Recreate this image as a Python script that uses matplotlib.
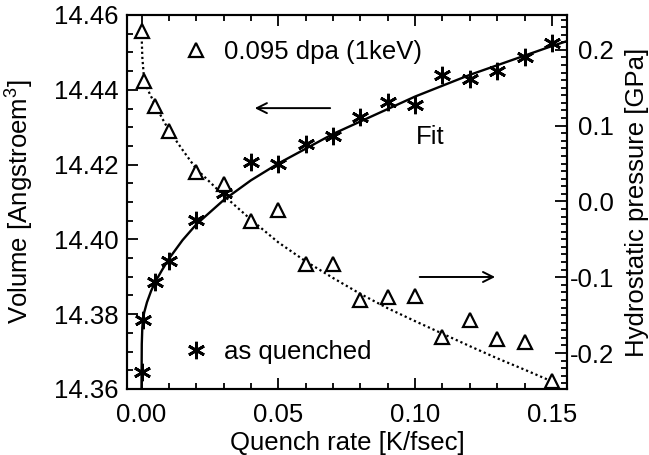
import matplotlib
matplotlib.use('Agg')
import matplotlib.pyplot as plt
from matplotlib.lines import Line2D

plt.rcParams['font.family'] = ['Liberation Sans', 'DejaVu Sans']
plt.rcParams['mathtext.default'] = 'regular'

# as quenched volume (left axis)
rate_v = [0.0, 0.0005, 0.005, 0.01, 0.02, 0.03, 0.04, 0.05, 0.06, 0.07, 0.08,
          0.09, 0.10, 0.11, 0.12, 0.13, 0.14, 0.15]
volume = [14.3645, 14.3785, 14.3887, 14.3942, 14.4052, 14.4125, 14.4208, 14.4201,
          14.4255, 14.4276, 14.4326, 14.4368, 14.4359, 14.4440, 14.4429, 14.4451,
          14.4489, 14.4524]

# fit through the volume points
fit_rate_v = [0.0, 0.0001, 0.0003, 0.0006, 0.001, 0.002, 0.0035, 0.005, 0.0075, 0.01,
              0.015, 0.02, 0.03, 0.04, 0.05, 0.07, 0.10, 0.12, 0.15, 0.155]
fit_volume = [14.360, 14.372, 14.3765, 14.3790, 14.3805, 14.3832, 14.3862, 14.3886,
              14.3918, 14.3948, 14.3998, 14.4040, 14.4105, 14.4158, 14.4203, 14.4282,
              14.4382, 14.4440, 14.4517, 14.4529]

# 0.095 dpa (1keV) hydrostatic pressure (right axis)
rate_p = [0.0, 0.001, 0.005, 0.01, 0.02, 0.03, 0.04, 0.05, 0.06, 0.07, 0.08,
          0.09, 0.10, 0.11, 0.12, 0.13, 0.14, 0.15]
pressure = [0.2243, 0.1592, 0.1263, 0.0933, 0.0388, 0.0230, -0.0255, -0.0110,
            -0.0826, -0.0826, -0.1297, -0.1260, -0.1244, -0.1790, -0.1560, -0.1810,
            -0.1860, -0.2375]

# dotted fit through the pressure points
fit_rate_p = [0.0, 0.0003, 0.0008, 0.0015, 0.003, 0.005, 0.0075, 0.01, 0.015, 0.02,
              0.03, 0.04, 0.05, 0.06, 0.07, 0.08, 0.09, 0.10, 0.12, 0.13, 0.14, 0.15]
fit_pressure = [0.2245, 0.190, 0.168, 0.155, 0.142, 0.128, 0.110, 0.094, 0.068, 0.043,
                0.008, -0.024, -0.054, -0.079, -0.101, -0.122, -0.141, -0.158,
                -0.191, -0.207, -0.222, -0.2375]

FS = 18.5

fig = plt.figure(figsize=(6.49, 4.55), dpi=100)
ax = fig.add_axes([127/649, 1 - 389/455, 440/649, 374/455])
ax2 = ax.twinx()

# volume
ax.plot(fit_rate_v, fit_volume, color='black', lw=1.7, zorder=2)
ax.plot(rate_v, volume, linestyle='none', marker=(6, 2, 0), ms=12.5, mew=2.0,
        color='black', zorder=3)

# pressure
ax2.plot(fit_rate_p, fit_pressure, color='black', lw=1.6, linestyle=(0, (1, 1.3)))
ax2.plot(rate_p, pressure, linestyle='none', marker='^', ms=9.5, mew=1.6,
         mfc='white', mec='black')

ax.set_xlim(-0.0053, 0.1555)
ax.set_ylim(14.36, 14.46)
ax2.set_ylim(-0.2475, 0.246)

ax.set_xticks([0.0, 0.05, 0.10, 0.15])
ax.set_xticklabels(['0.00', '0.05', '0.10', '0.15'])
ax.set_xticks([i * 0.01 for i in range(16)], minor=True)
ax.set_yticks([14.36, 14.38, 14.40, 14.42, 14.44, 14.46])
ax.set_yticks([14.36 + i * 0.005 for i in range(21)], minor=True)
ax2.set_yticks([-0.2, -0.1, 0.0, 0.1, 0.2])
ax2.set_yticklabels(['-0.2', '-0.1', '0.0', '0.1', '0.2'])
ax2.set_yticks([-0.24 + i * 0.01 for i in range(49)], minor=True)

ax.tick_params(axis='x', which='both', direction='in', top=True, bottom=True,
               width=1.3, labelsize=FS, pad=10)
ax.tick_params(axis='y', which='both', direction='in', left=True, right=False,
               width=1.3, labelsize=FS, pad=6)
ax.tick_params(which='major', length=8)
ax.tick_params(which='minor', length=4)
ax2.tick_params(axis='y', which='both', direction='in', left=False, right=True,
                width=1.3, labelsize=FS, pad=34)
ax2.tick_params(which='major', length=9)
ax2.tick_params(which='minor', length=4)
for lab in ax2.get_yticklabels():
    lab.set_horizontalalignment('right')

for a in (ax, ax2):
    for s in a.spines.values():
        s.set_linewidth(1.5)

ax.set_xlabel('Quench rate [K/fsec]', fontsize=FS, labelpad=3)
ax.set_ylabel('Volume [Angstroem$^3$]', fontsize=FS, labelpad=13)
ax2.set_ylabel('Hydrostatic pressure [GPa]', fontsize=FS, labelpad=8)

# legends
tri = Line2D([], [], linestyle='none', marker='^', ms=9.5, mew=1.6,
             mfc='white', mec='black')
star = Line2D([], [], linestyle='none', marker=(6, 2, 0), ms=12.5, mew=2.0,
              color='black')
leg1 = ax2.legend([tri], ['0.095 dpa (1keV)'], loc='center left',
                  bbox_to_anchor=(0.127, 0.901), frameon=False, fontsize=FS,
                  handlelength=1.0, handletextpad=0.6, borderpad=0, borderaxespad=0)
ax2.add_artist(leg1)
ax2.legend([star], ['as quenched'], loc='center left',
           bbox_to_anchor=(0.127, 0.099), frameon=False, fontsize=FS,
           handlelength=1.0, handletextpad=0.6, borderpad=0, borderaxespad=0)

# arrows and label
ax2.annotate('', xy=(0.284, 0.751), xytext=(0.468, 0.751), xycoords='axes fraction',
             arrowprops=dict(arrowstyle='->', lw=1.4, color='black',
                             mutation_scale=18))
ax2.annotate('', xy=(0.843, 0.2995), xytext=(0.659, 0.2995), xycoords='axes fraction',
             arrowprops=dict(arrowstyle='->', lw=1.4, color='black',
                             mutation_scale=18))
ax2.text(0.689, 0.674, 'Fit', transform=ax2.transAxes, fontsize=FS,
         ha='center', va='center')

fig.savefig('out.png', dpi=100)
